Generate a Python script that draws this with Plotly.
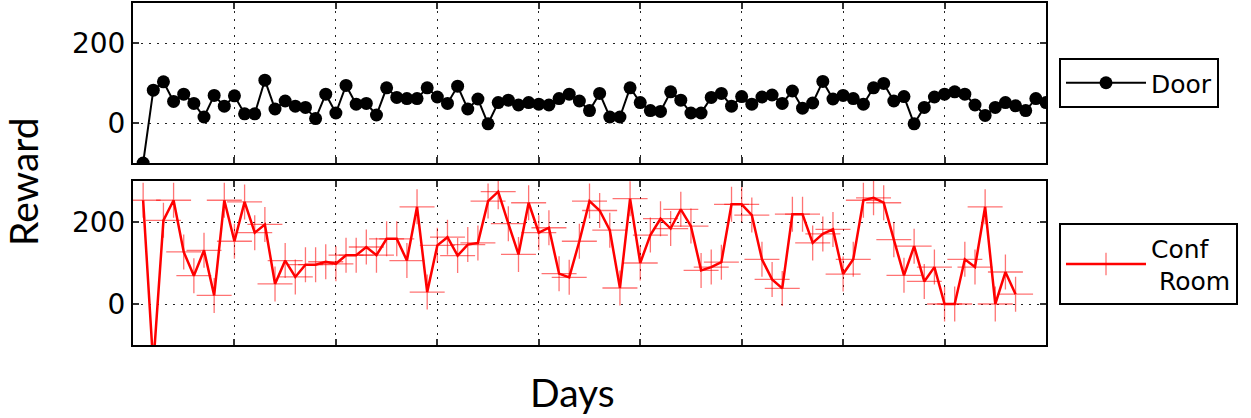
import plotly.graph_objects as go
from plotly.subplots import make_subplots

door_days = list(range(1, 91))
door_reward = [-100, 82, 103, 54, 72, 49, 15, 69, 42, 68,
               23, 23, 107, 35, 55, 42, 39, 11, 72, 25,
               94, 47, 49, 20, 88, 64, 61, 61, 88, 65,
               49, 92, 35, 60, -2, 51, 57, 45, 51, 47,
               45, 61, 72, 55, 31, 74, 15, 15, 88, 51,
               31, 29, 78, 57, 25, 25, 64, 74, 42, 66,
               47, 65, 70, 49, 80, 37, 50, 104, 60, 69,
               61, 47, 88, 99, 55, 66, -2, 39, 65, 72,
               78, 72, 45, 19, 39, 51, 43, 31, 61, 51]

conf_days = list(range(1, 88))
conf_reward = [253, -150, 204, 253, 127, 69, 131, 21, 253, 153,
               249, 174, 194, 49, 106, 66, 96, 96, 103, 98,
               119, 119, 139, 119, 159, 159, 106, 237, 29, 143,
               163, 118, 145, 149, 251, 274, 196, 121, 247, 174,
               186, 74, 65, 153, 251, 228, 180, 39, 257, 100,
               168, 208, 184, 231, 190, 82, 90, 102, 243, 243,
               217, 109, 60, 38, 219, 219, 149, 171, 182, 73,
               109, 253, 259, 247, 157, 70, 141, 55, 90, 0,
               0, 109, 90, 237, 0, 78, 24]

W, H = 1251, 418
ML, MR, MT, MB = 133, 205, 3, 73
PW = W - ML - MR
PH = H - MT - MB

def py(pix):
    return (H - MB - pix) / PH

def px(pix):
    return (pix - ML) / PW

fig = make_subplots(rows=2, cols=1, vertical_spacing=0.0)

fig.add_trace(go.Scatter(
    x=door_days, y=door_reward, name="Door", mode="lines+markers",
    line=dict(color="black", width=2),
    marker=dict(color="black", size=13, symbol="circle"),
    showlegend=True, legend="legend"), row=1, col=1)

fig.add_trace(go.Scatter(
    x=conf_days, y=conf_reward, name="Conf<br> Room", mode="lines+markers",
    line=dict(color="#ff0000", width=2.5),
    marker=dict(symbol="cross-thin", size=25,
                line=dict(color="rgba(255,0,0,0.55)", width=1.3)),
    showlegend=True, legend="legend2"), row=2, col=1)

axis_common = dict(showline=True, linecolor="black", linewidth=2, mirror="ticks",
                   ticks="inside", ticklen=6, tickcolor="#333", tickwidth=1.5,
                   showgrid=True, gridcolor="#222", gridwidth=1, griddash="2px,6px",
                   zeroline=False)

fig.update_xaxes(range=[0, 90], dtick=10, tick0=0, showticklabels=False, **axis_common)
fig.update_yaxes(range=[-100, 300], dtick=200, tick0=0,
                 tickfont=dict(family="DejaVu Sans", size=28, color="black"),
                 **axis_common)

fig.update_layout(
    width=W, height=H, showlegend=True,
    margin=dict(l=ML, r=MR, t=MT, b=MB, autoexpand=False),
    paper_bgcolor="white", plot_bgcolor="white",
    yaxis=dict(domain=[py(163), 1.0]),
    yaxis2=dict(domain=[0.0, py(181)]),
    legend=dict(x=px(1059), y=py(58), xanchor="left", yanchor="top",
                bordercolor="black", borderwidth=2, bgcolor="white", itemwidth=80,
                font=dict(family="DejaVu Sans", size=25, color="black")),
    legend2=dict(x=px(1059), y=py(223), xanchor="left", yanchor="top",
                 bordercolor="black", borderwidth=2, bgcolor="white", itemwidth=80,
                 font=dict(family="DejaVu Sans", size=25, color="black")),
    annotations=[
        dict(text="Reward", xref="paper", yref="paper", x=px(23), y=py(182),
             xanchor="center", yanchor="middle", textangle=-90, showarrow=False,
             font=dict(family="Lato", size=39, color="black")),
        dict(text="Days", xref="paper", yref="paper", x=px(572), y=py(392),
             xanchor="center", yanchor="middle", showarrow=False,
             font=dict(family="Lato", size=39, color="black")),
    ],
)

fig.write_html("out.html", config={"displayModeBar": False},
               post_script="document.body.style.margin='0';")
